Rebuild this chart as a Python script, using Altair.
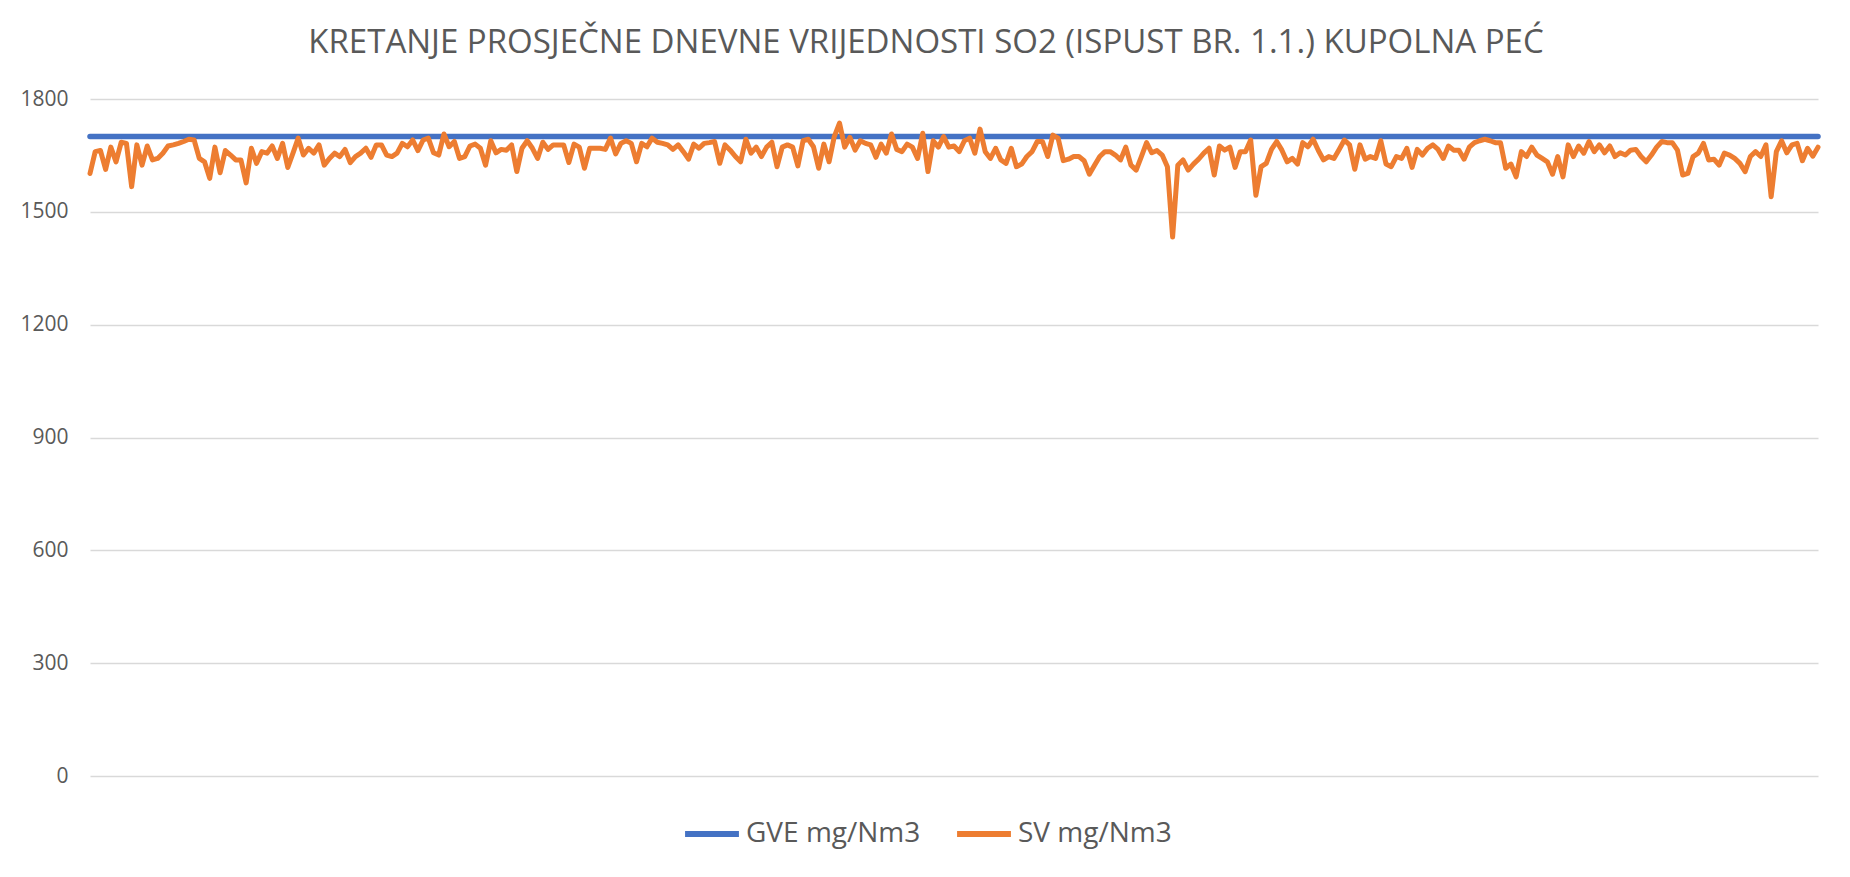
import altair as alt
import pandas as pd

title_text = "KRETANJE PROSJEČNE DNEVNE VRIJEDNOSTI SO2 (ISPUST BR. 1.1.) KUPOLNA PEĆ"
series_names = ["GVE mg/Nm3", "SV mg/Nm3"]
series_colors = ["#4472C4", "#ED7D31"]
gve_limit = 1700
y_ticks = [0, 300, 600, 900, 1200, 1500, 1800]

sv_part1 = [1602,1660,1663,1613,1672,1633,1685,1682,1567,1678,1624,1675,1638,1642,1656,1675,1678,1682,1687,1693,
            1691,1642,1633,1589,1672,1604,1663,1651,1638,1638,1577,1669,1629,1660,1656,1675,1642,1682,1618,1656,
            1696,1651,1669,1656,1678,1624,1642,1656,1647,1666,1631,1647,1656,1669,1645,1678]
sv_part2 = [1678,1651,1647,1656,1682,1673,1691,1663,1691,1696,1657,1651,1707,1673,1687,1642,1647,1675,1680,1669,
            1624,1689,1657,1666,1664,1678,1607,1669,1689,1669,1642,1685,1666,1678,1678,1678,1631,1680,1672,1616,
            1669,1669,1669,1666,1696,1654,1682,1689,1682,1633,1682,1673,1696,1685]
sv_part3 = [1682,1678,1666,1678,1660,1640,1680,1669,1682,1684,1687,1629,1678,1664,1647,1633,1693,1656,1672,1647,
            1672,1685,1620,1672,1678,1672,1622,1689,1693,1673,1616,1680,1633,1700,1736,1672,1698,1664,1689,1682,
            1678,1645,1680,1656,1707,1666,1660,1680,1672,1642,1709,1607,1689,1672,1700,1672]
sv_part4 = [1675,1660,1689,1696,1656,1720,1660,1642,1669,1638,1629,1669,1620,1627,1647,1660,1687,1687,1647,1704,
            1696,1636,1640,1647,1647,1636,1600,1624,1647,1660,1660,1651,1638,1672,1624,1611,1647,1684,1657,1663,
            1651,1620,1433,1624,1638,1611,1627,1640,1656,1669,1598,1675,1664,1672,1618]
sv_part5 = [1660,1660,1691,1544,1620,1629,1666,1687,1664,1633,1642,1627,1684,1673,1693,1663,1638,1647,1642,1666,
            1691,1678,1613,1678,1640,1647,1642,1689,1627,1620,1647,1642,1669,1618,1666,1651,1669,1678,1666,1642,
            1675,1664,1664,1640,1672,1684,1689,1693,1689,1684,1684,1616,1627,1593,1660,1647,1672]
sv_part6 = [1651,1642,1633,1600,1647,1593,1678,1647,1675,1656,1687,1660,1678,1657,1675,1647,1657,1651,1664,1666,
            1647,1633,1651,1672,1687,1684,1684,1664,1598,1602,1647,1656,1682,1638,1640,1624,1656,1651,1642,1629,
            1607,1647,1660,1647,1678,1540,1660,1689,1657,1678,1682,1636,1669,1648,1672]

sv_values = sv_part1 + sv_part2 + sv_part3 + sv_part4 + sv_part5 + sv_part6
n = len(sv_values)
days = list(range(n))

df = pd.DataFrame({
    "day": days * 2,
    "value": [gve_limit] * n + sv_values,
    "series": [series_names[0]] * n + [series_names[1]] * n,
})

color_scale = alt.Scale(domain=series_names, range=series_colors)
font = "Open Sans"
grey = "#595959"

x_enc = alt.X("day:Q", axis=None, scale=alt.Scale(domain=[0, n - 1], nice=False, zero=False))
y_enc = alt.Y("value:Q",
              scale=alt.Scale(domain=[0, 1800], nice=False),
              axis=alt.Axis(values=y_ticks, title=None, domain=False, ticks=False, format="d",
                            labelFontSize=21, labelFont=font, labelColor=grey, labelPadding=22,
                            gridColor="#D9D9D9", gridWidth=1.5))
color_enc = alt.Color("series:N", scale=color_scale,
                      legend=alt.Legend(orient="none", legendX=592, legendY=705, direction="horizontal",
                                        title=None, symbolType="stroke", symbolStrokeWidth=6,
                                        symbolSize=2900, labelFontSize=28, labelFont=font,
                                        labelColor=grey, columnPadding=24, labelOffset=4,
                                        labelLimit=400))

gve = alt.Chart(df).transform_filter(alt.datum.series == series_names[0]).mark_line(
    strokeWidth=5.5, strokeCap="round").encode(x=x_enc, y=y_enc, color=color_enc)
sv = alt.Chart(df).transform_filter(alt.datum.series == series_names[1]).mark_line(
    strokeWidth=5, strokeJoin="round", strokeCap="round").encode(x=x_enc, y=y_enc, color=color_enc)

chart = alt.layer(gve, sv).properties(
    width=1728, height=677,
    autosize=alt.AutoSizeParams(type="none"),
    padding={"left": 82, "top": 91, "right": 24, "bottom": 85},
    title=alt.Title(title_text, font=font, fontSize=33, fontWeight="normal", color=grey,
                    anchor="middle", offset=28, dx=-28),
).configure_view(stroke=None)

chart.save("out.html", embed_options={"renderer": "svg", "actions": False})
